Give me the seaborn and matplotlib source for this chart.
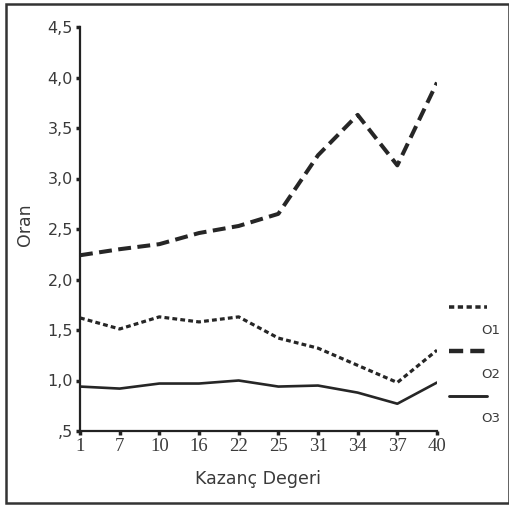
import matplotlib
matplotlib.use("Agg")
import matplotlib.pyplot as plt
import seaborn as sns
import pandas as pd
from matplotlib.lines import Line2D
from matplotlib.patches import Rectangle

categories = ["1", "7", "10", "16", "22", "25", "31", "34", "37", "40"]
o1 = [1.62, 1.51, 1.63, 1.58, 1.63, 1.42, 1.32, 1.15, 0.98, 1.30]
o2 = [2.24, 2.30, 2.35, 2.46, 2.53, 2.65, 3.23, 3.63, 3.13, 3.95]
o3 = [0.94, 0.92, 0.97, 0.97, 1.00, 0.94, 0.95, 0.88, 0.77, 0.98]
series_names = ["O1", "O2", "O3"]
yticks = [0.5, 1.0, 1.5, 2.0, 2.5, 3.0, 3.5, 4.0, 4.5]
ytick_labels = [",5", "1,0", "1,5", "2,0", "2,5", "3,0", "3,5", "4,0", "4,5"]

rows = []
for name, vals in zip(series_names, [o1, o2, o3]):
    for i, v in enumerate(vals):
        rows.append({"pos": i, "Oran": v, "Seri": name})
df = pd.DataFrame(rows)

sns.set_style("white")
plt.rcParams['font.family'] = ['DejaVu Sans']

fig = plt.figure(figsize=(5.10, 5.07), dpi=100)
ax = fig.add_axes([80/510, 1-431/507, (437-80)/510, (431-27)/507])

line_color = "#262626"
text_color = "#3a3a3a"
widths = {"O1": 2.3, "O2": 2.9, "O3": 1.9}
dashes = {"O1": (1.5, 1.0), "O2": (3.2, 1.6), "O3": ""}
for name in series_names:
    sub = df[df["Seri"] == name]
    sns.lineplot(data=sub, x="pos", y="Oran", ax=ax, color=line_color,
                 linewidth=widths[name], legend=False, estimator=None)
    ln = ax.lines[-1]
    if dashes[name]:
        ln.set_dashes(dashes[name])
        ln.set_dash_capstyle("butt")

ax.set_xlim(0, len(categories) - 1)
ax.set_ylim(0.5, 4.5)
ax.set_xticks(range(len(categories)))
ax.set_xticklabels(categories, family=['Liberation Serif'], fontsize=13.5, color=text_color)
ax.set_yticks(yticks)
ax.set_yticklabels(ytick_labels, fontsize=11.5, color=text_color)
ax.tick_params(axis="both", direction="out", length=3, width=2.5, color="#222222",
               left=True, bottom=True, pad=2)
for s in ["top", "right"]:
    ax.spines[s].set_visible(False)
for s in ["left", "bottom"]:
    ax.spines[s].set_linewidth(1.6)
    ax.spines[s].set_color("#222222")
ax.set_xlabel("Kazanç Degeri", fontsize=12.5, color=text_color)
ax.set_ylabel("Oran", fontsize=12.5, color=text_color)
ax.xaxis.set_label_coords(0.5, -0.097)
ax.yaxis.set_label_coords(-0.13, 0.51)
ax.set_facecolor("white")

# legend: handle line above, label below
leg_y = [307, 351, 396]
for name, yy in zip(series_names, leg_y):
    yf = 1 - yy / 507
    l = Line2D([449/510, 487/510], [yf, yf], transform=fig.transFigure,
               color=line_color, linewidth=widths[name] * 1.1)
    if dashes[name]:
        l.set_dashes(dashes[name])
        l.set_dash_capstyle("butt")
    fig.lines.append(l)
    fig.text(500/510, 1 - (yy + 23) / 507, name, ha="right", va="center",
             fontsize=9.5, color=text_color)

fig.patches.append(Rectangle((6/510, 1-503/507), 503/510, 499/507,
                             transform=fig.transFigure, fill=False,
                             edgecolor="#333333", linewidth=1.8))

fig.savefig("out.png", dpi=100, facecolor="white")
